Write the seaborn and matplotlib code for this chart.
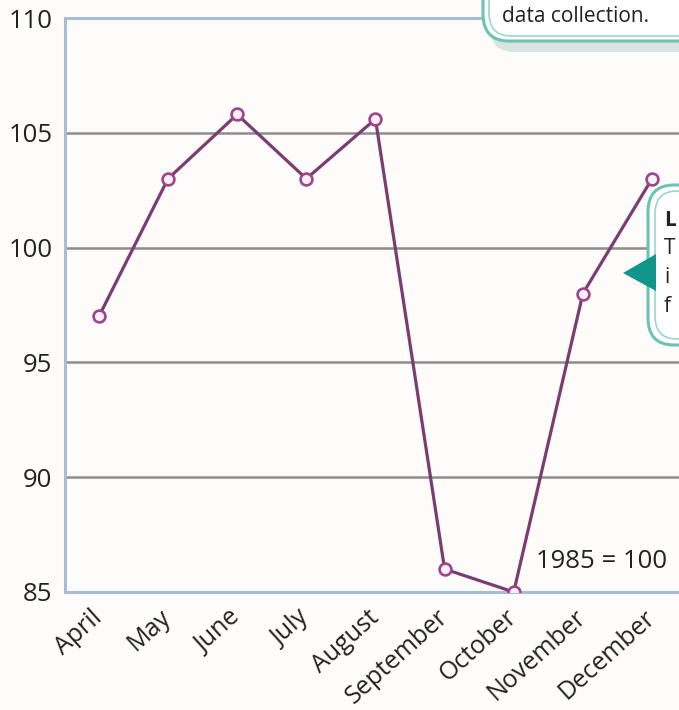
import matplotlib
matplotlib.use("Agg")
import matplotlib.pyplot as plt
import pandas as pd
import seaborn as sns
from matplotlib.patches import FancyBboxPatch, Polygon

# ---------------------------------------------------------------------------
# Data (index, 1985 = 100)
# ---------------------------------------------------------------------------
months = ["April", "May", "June", "July", "August",
          "September", "October", "November", "December"]
index_values = [97.0, 103.0, 105.8, 103.0, 105.6, 86.0, 85.0, 98.0, 103.0]
y_ticks = [85, 90, 95, 100, 105, 110]

LINE = "#7b3d71"
GRID = "#8c8c8c"
SPINE = "#a6bdd6"
TEAL = "#6cc3b3"
W, H = 679, 710

sns.set_style("white")
plt.rcParams["font.family"] = ["Open Sans", "DejaVu Sans"]

df = pd.DataFrame({"month": range(len(months)), "value": index_values})

fig = plt.figure(figsize=(W / 100, H / 100), dpi=100, facecolor="#fdfcfa")


def px(x, y):
    """Pixel position (from top-left) to figure fraction."""
    return x / W, 1 - y / H


def rbox(left, top, right, bottom, radius, **kw):
    """Rounded box given in pixels (from top-left), added to the figure."""
    x0, y0 = px(left, bottom)
    patch = FancyBboxPatch(
        (x0, y0), (right - left) / W, (bottom - top) / H,
        boxstyle=f"round,pad=0,rounding_size={radius / W}",
        transform=fig.transFigure, **kw,
    )
    fig.add_artist(patch)
    return patch


ax = fig.add_axes([65 / W, 1 - 592 / H, (W - 65) / W, (592 - 18) / H])
ax.set_facecolor("#fdfcfa")

sns.lineplot(
    data=df, x="month", y="value", ax=ax, color=LINE, linewidth=2.3,
    marker="o", markersize=8.5, markerfacecolor="#fbeef6",
    markeredgecolor="#9a4688", markeredgewidth=1.9, zorder=5,
)

ax.set_xlim(-0.49, 8.39)
ax.set_ylim(85, 110)
ax.set_yticks(y_ticks)
ax.set_yticklabels([str(t) for t in y_ticks], fontsize=18.5, color="#222222")
ax.set_xticks(range(len(months)))
ax.set_xticklabels(months, fontsize=18, color="#222222", rotation=42,
                   ha="right", va="center", rotation_mode="anchor")
ax.tick_params(axis="y", length=0, pad=9)
ax.tick_params(axis="x", length=0, pad=16)
ax.set_xlabel("")
ax.set_ylabel("")

for t in [90, 95, 100, 105]:
    ax.axhline(t, color=GRID, linewidth=1.8, zorder=1)

for side in ["left", "bottom", "top"]:
    ax.spines[side].set_color(SPINE)
    ax.spines[side].set_linewidth(2.2)
ax.spines["right"].set_visible(False)

tx, ty = px(667, 562)
fig.text(tx, ty, "1985 = 100", fontsize=18.5, color="#222222",
         ha="right", va="center", zorder=6)

# ---------------------------------------------------------------------------
# Callout boxes (cropped at the figure edge)
# ---------------------------------------------------------------------------
rbox(490, -120, 760, 52, 24, facecolor="#b7cfc8", edgecolor="none",
     alpha=0.5, zorder=10)
rbox(483, -120, 760, 41, 26, facecolor="white", edgecolor=TEAL,
     linewidth=2.2, zorder=11)
rbox(489, -120, 760, 36, 22, facecolor="white", edgecolor="#9bd6ca",
     linewidth=1.2, zorder=12)
tx, ty = px(502, 22)
fig.text(tx, ty, "data collection.", fontsize=15, color="#222222",
         ha="left", va="baseline", zorder=13)

rbox(648, 185, 760, 345, 26, facecolor="white", edgecolor=TEAL,
     linewidth=2.2, zorder=11)
rbox(655, 191, 760, 339, 22, facecolor="white", edgecolor="#9bd6ca",
     linewidth=1.2, zorder=12)
tri = Polygon([px(623, 273), px(656, 254), px(656, 291)], closed=True,
              transform=fig.transFigure, facecolor="#12968a",
              edgecolor="none", zorder=13)
fig.add_artist(tri)
for letter, yy, weight in [("L", 220, "bold"), ("T", 249, "normal"),
                           ("i", 278, "normal"), ("f", 307, "normal")]:
    tx, ty = px(664, yy)
    fig.text(tx, ty, letter, fontsize=15, color="#222222", fontweight=weight,
             ha="left", va="center", zorder=14)

fig.savefig("out.png", dpi=100, facecolor=fig.get_facecolor())
